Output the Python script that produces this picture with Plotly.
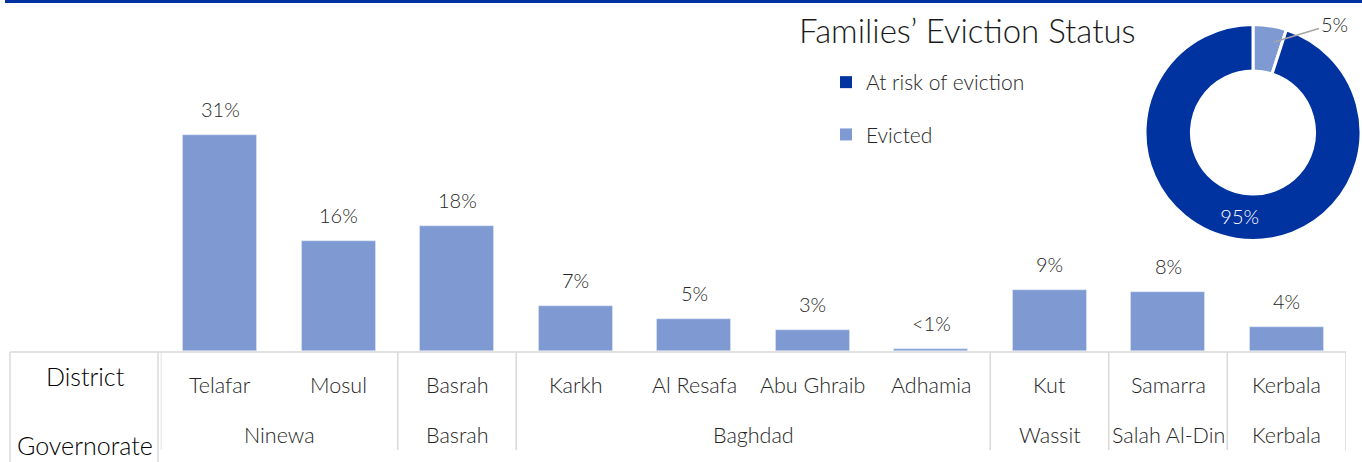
import plotly.graph_objects as go

# ---- data ----
districts = ["Telafar", "Mosul", "Basrah", "Karkh", "Al Resafa", "Abu Ghraib",
             "Adhamia", "Kut", "Samarra", "Kerbala"]
governorates = ["Ninewa", "Ninewa", "Basrah", "Baghdad", "Baghdad", "Baghdad",
                "Baghdad", "Wassit", "Salah Al-Din", "Kerbala"]
share = [31, 15.8, 18, 6.5, 4.6, 3.0, 0.3, 8.8, 8.4, 3.5]
share_labels = ["31%", "16%", "18%", "7%", "5%", "3%", "<1%", "9%", "8%", "4%"]

status = ["Evicted", "At risk of eviction"]
status_share = [5, 95]
status_labels = ["5%", "95%"]

# ---- style ----
W, H = 1362, 462
FONT = "Lato"
WT = 300
DARK = "#0033A0"
LIGHT = "#7F9AD2"
GRID = "#D9D9D9"
TXT = "#262626"

x0_px, x1_px = 160.75, 1345.75
base_px = 351
px_per_pct = 6.97

fig = go.Figure()

fig.add_trace(go.Bar(
    x=list(range(len(districts))), y=share, marker_color=LIGHT,
    width=74 / 118.5, showlegend=False, hoverinfo="skip",
))

fig.add_trace(go.Pie(
    labels=status, values=status_share, sort=False, direction="clockwise",
    rotation=0, hole=0.57,
    marker=dict(colors=[LIGHT, DARK], line=dict(color="white", width=3)),
    text=status_labels, textinfo="text", textposition=["none", "inside"],
    insidetextorientation="horizontal",
    textfont=dict(family=FONT, size=20, color="white", weight=WT),
    domain=dict(x=[1145 / W, 1361 / W], y=[1 - 241 / H, 1 - 24 / H]),
    showlegend=False, hoverinfo="skip",
))

# legend proxies
for name, col in zip(["At risk of eviction", "Evicted"], [DARK, LIGHT]):
    fig.add_trace(go.Scatter(
        x=[None], y=[None], mode="markers", name=name, legendgroup=name,
        marker=dict(symbol="square", size=10, color=col),
    ))

annotations = []
# bar value labels
for i, (v, lab) in enumerate(zip(share, share_labels)):
    annotations.append(dict(x=i, y=v, xref="x", yref="y", text=lab,
                            showarrow=False, yanchor="middle", yshift=26,
                            font=dict(family=FONT, size=20, color=TXT, weight=WT)))
# district labels
for i, d in enumerate(districts):
    annotations.append(dict(x=i, y=1 - 385 / H, xref="x", yref="paper", text=d,
                            showarrow=False, yanchor="middle",
                            font=dict(family=FONT, size=21.5, color=TXT, weight=WT)))
# governorate groups
groups = []
start = 0
for i in range(1, len(governorates) + 1):
    if i == len(governorates) or governorates[i] != governorates[start]:
        groups.append((governorates[start], start, i - 1))
        start = i
for g, a, b in groups:
    annotations.append(dict(x=(a + b) / 2, y=1 - 435 / H, xref="x", yref="paper",
                            text=g, showarrow=False, yanchor="middle",
                            font=dict(family=FONT, size=21.5, color=TXT, weight=WT)))

# row headers
annotations.append(dict(x=85 / W, y=1 - 376 / H, xref="paper", yref="paper",
                        text="District", showarrow=False, xanchor="center",
                        yanchor="middle",
                        font=dict(family=FONT, size=25, color="black", weight=WT)))
annotations.append(dict(x=85 / W, y=1 - 445 / H, xref="paper", yref="paper",
                        text="Governorate", showarrow=False, xanchor="center",
                        yanchor="middle",
                        font=dict(family=FONT, size=25, color="black", weight=WT)))

# donut title
annotations.append(dict(x=797 / W, y=1 - 30 / H, xref="paper", yref="paper",
                        text="Families’ Eviction Status", showarrow=False,
                        xanchor="left", yanchor="middle",
                        font=dict(family=FONT, size=33, color="#1A1A1A", weight=WT)))
# 5% outside label with leader line (arrow tip on the slice, text offset)
annotations.append(dict(x=1274 / W, y=1 - 42 / H, xref="paper", yref="paper",
                        text=status_labels[0], showarrow=True, arrowhead=0,
                        arrowwidth=1.5, arrowcolor="#A6A6A6",
                        ax=60, ay=-18, xanchor="center", yanchor="middle",
                        font=dict(family=FONT, size=20, color=TXT, weight=WT)))

shapes = []
# top blue rule
shapes.append(dict(type="rect", xref="paper", yref="paper", x0=5 / W, x1=1,
                   y0=1 - 3 / H, y1=1, fillcolor=DARK, line_width=0))
# table top line
shapes.append(dict(type="line", xref="paper", yref="paper", x0=10 / W, x1=1346 / W,
                   y0=1 - 352 / H, y1=1 - 352 / H, line=dict(color=GRID, width=1.5)))
# left header box
for xp in (10, 158):
    shapes.append(dict(type="line", xref="paper", yref="paper", x0=xp / W, x1=xp / W,
                       y0=0, y1=1 - 352 / H, line=dict(color=GRID, width=1.5)))
# group separators
bounds = sorted(set([a - 0.5 for _, a, _ in groups] + [b + 0.5 for _, _, b in groups]))
for bx in bounds:
    shapes.append(dict(type="line", xref="x", yref="paper", x0=bx, x1=bx,
                       y0=1 - 450 / H, y1=1 - 352 / H, line=dict(color=GRID, width=1.5)))

fig.update_layout(
    width=W, height=H, margin=dict(l=0, r=0, t=0, b=0),
    paper_bgcolor="white", plot_bgcolor="white",
    xaxis=dict(domain=[x0_px / W, x1_px / W], range=[-0.5, len(districts) - 0.5],
               showticklabels=False, showgrid=False, zeroline=False, showline=False,
               ticks=""),
    yaxis=dict(domain=[(H - base_px) / H, 1], range=[0, base_px / px_per_pct],
               showticklabels=False, showgrid=False, zeroline=False, showline=False),
    legend=dict(x=826 / W, y=1 - 62 / H, xanchor="left", yanchor="top",
                font=dict(family=FONT, size=21, color=TXT, weight=WT), itemwidth=30,
                tracegroupgap=22, itemsizing="constant", bgcolor="rgba(0,0,0,0)"),
    bargap=0,
    annotations=annotations, shapes=shapes,
    font=dict(family=FONT),
)

fig.write_html("out.html", config={"displayModeBar": False},
               post_script="document.body.style.margin='0px';")
